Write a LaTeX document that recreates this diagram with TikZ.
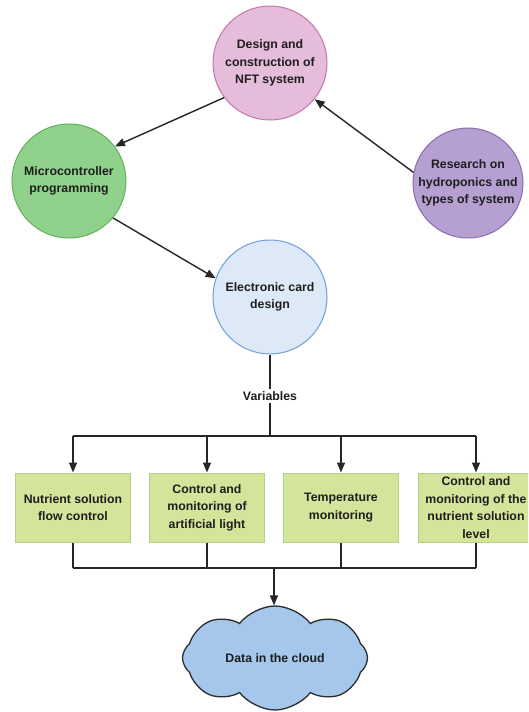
\documentclass[tikz,border=0pt]{standalone}
\usepackage{fontspec}
\setmainfont{Liberation Sans}
\usetikzlibrary{shapes.symbols,arrows.meta}
\definecolor{pinkF}{HTML}{E6BCDB}\definecolor{pinkD}{HTML}{C675AC}
\definecolor{greenF}{HTML}{90D18C}\definecolor{greenD}{HTML}{5FB35A}
\definecolor{purpF}{HTML}{B6A0D2}\definecolor{purpD}{HTML}{8A6BB0}
\definecolor{blueF}{HTML}{DDE9F7}\definecolor{blueD}{HTML}{6F9FD8}
\definecolor{boxF}{HTML}{D5E49B}\definecolor{boxD}{HTML}{B1D38A}
\definecolor{cloudF}{HTML}{A4C7EB}\definecolor{cloudD}{HTML}{2D2D2D}
\definecolor{txt}{HTML}{1E1E1E}
\tikzset{
  lbl/.style={font=\fontsize{12.3}{17.5}\selectfont\bfseries, text=txt, align=center},
  circ/.style={lbl, circle, line width=1pt, minimum size=114pt, inner sep=0pt},
  varbox/.style={lbl, rectangle, draw=boxD, fill=boxF, line width=1pt, minimum width=115pt, minimum height=69pt, inner xsep=1pt, inner ysep=0pt},
  conn/.style={line width=1.4pt, draw=black!85},
  arr/.style={conn, -{Triangle[length=10pt,width=8pt]}},
}
\begin{document}
\begin{tikzpicture}[x=1pt,y=-1pt]
\useasboundingbox (0,0) rectangle (528,712);
\clip (0,0) rectangle (528,712);
\fill[white] (0,0) rectangle (528,712);
\node[circ, draw=pinkD, fill=pinkF] (design) at (270,63) {Design and\\construction of\\NFT system};
\node[circ, draw=greenD, fill=greenF] (micro) at (69,181) {Microcontroller\\programming};
\node[circ, draw=purpD, fill=purpF, minimum size=110pt] (research) at (468,183) {Research on\\hydroponics and\\types of system};
\node[circ, draw=blueD, fill=blueF] (elec) at (270,297) {Electronic card\\design};
\draw[arr] (design.217) -- (micro.37);
\draw[arr] (research.169) -- (design.321);
\draw[arr] (micro.-40) -- (elec.161);
\node[lbl, fill=white, inner sep=2pt] (var) at (270,396) {Variables};
\coordinate (j) at (270,436);
\draw[conn] (elec.south) -- (var.north);
\draw[conn] (var.south) -- (j);
\node[varbox] (b1) at (73,507.5) {Nutrient solution\\flow control};
\node[varbox] (b2) at (207,507.5) {Control and\\monitoring of\\artificial light};
\node[varbox] (b3) at (341,507.5) {Temperature\\monitoring};
\node[varbox] (b4) at (476,507.5) {Control and\\monitoring of the\\nutrient solution\\level};
\draw[conn] (b1.north |- j) -- (b4.north |- j);
\foreach \b in {b1,b2,b3,b4} \draw[arr] (\b.north |- j) -- (\b.north);
\coordinate (k) at (274,568);
\foreach \b in {b1,b2,b3,b4} \draw[conn] (\b.south) -- (\b.south |- k);
\draw[conn] (b1.south |- k) -- (b4.south |- k);
\node[lbl, cloud, cloud puffs=8, cloud puff arc=105, aspect=1.9, draw=cloudD, fill=cloudF, line width=1.3pt, minimum width=185pt, minimum height=104pt, inner sep=0pt] (cloud) at (275,658) {Data in the cloud};
\draw[arr] (k) -- (k |- cloud.north);
\end{tikzpicture}
\end{document}
